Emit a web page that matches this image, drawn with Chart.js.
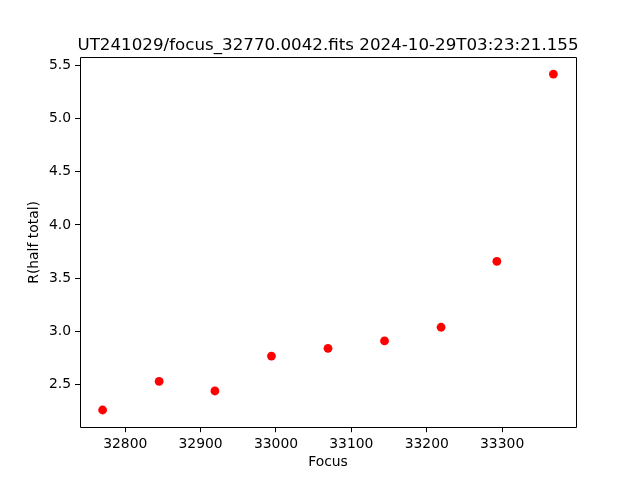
<!DOCTYPE html>
<html>
<head>
<meta charset="utf-8">
<script src="https://cdn.jsdelivr.net/npm/chart.js@4/dist/chart.umd.min.js"></script>
<style>
  html, body { margin: 0; padding: 0; background: #fff; }
  #c { display: block; }
</style>
</head>
<body>
<canvas id="c" width="640" height="480"></canvas>
<script>
const titleText = "UT241029/focus_32770.0042.fits 2024-10-29T03:23:21.155";
const xLabel = "Focus";
const yLabel = "R(half total)";
const focusValues = [32770, 32845, 32919, 32994, 33069, 33144, 33219, 33293, 33368];
const radiusValues = [2.258, 2.528, 2.437, 2.766, 2.839, 2.908, 3.037, 3.658, 5.421];
const xTicks = [32800, 32900, 33000, 33100, 33200, 33300];
const yTicks = [2.5, 3.0, 3.5, 4.0, 4.5, 5.0, 5.5];

const FONT = "'DejaVu Sans', sans-serif";
const AREA = { left: 80, right: 576, top: 57.6, bottom: 427.2 };

const points = focusValues.map((x, i) => ({ x: x, y: radiusValues[i] }));

const framePlugin = {
  id: 'frame',
  afterDraw(chart) {
    const ctx = chart.ctx;
    const a = chart.chartArea;
    ctx.save();
    ctx.strokeStyle = '#000';
    ctx.lineWidth = 1;
    const l = Math.round(a.left) + 0.5, r = Math.round(a.right) + 0.5;
    const t = Math.floor(a.top) + 0.5, b = Math.floor(a.bottom) + 0.5;
    ctx.beginPath();
    ctx.moveTo(l, t); ctx.lineTo(r, t); ctx.lineTo(r, b); ctx.lineTo(l, b); ctx.closePath();
    ctx.stroke();
    ctx.fillStyle = '#000';
    ctx.font = "16.7px " + FONT;
    ctx.textAlign = 'center';
    ctx.textBaseline = 'alphabetic';
    ctx.fillText(titleText, (a.left + a.right) / 2, 50);
    ctx.restore();
  }
};

new Chart(document.getElementById('c'), {
  type: 'scatter',
  data: {
    datasets: [{
      data: points,
      backgroundColor: '#ff0000',
      borderWidth: 0,
      pointRadius: 4.4,
      pointHoverRadius: 4.4
    }]
  },
  options: {
    responsive: false,
    animation: false,
    events: [],
    layout: { padding: { top: AREA.top, right: 640 - AREA.right, left: 0, bottom: 0 } },
    plugins: {
      legend: { display: false },
      tooltip: { enabled: false },
      title: { display: false }
    },
    scales: {
      x: {
        type: 'linear',
        min: 32740,
        max: 33398,
        afterBuildTicks: (axis) => { axis.ticks = xTicks.map(v => ({ value: v })); },
        afterFit: (axis) => { axis.height = 480 - AREA.bottom; },
        ticks: {
          color: '#000',
          font: { family: FONT, size: 13.9 },
          padding: 4,
          maxRotation: 0,
          autoSkip: false,
          callback: (v) => String(v)
        },
        grid: {
          display: true,
          drawOnChartArea: false,
          drawTicks: true,
          tickLength: 5,
          tickColor: '#000',
          tickWidth: 1
        },
        border: { display: false },
        title: {
          display: true,
          text: xLabel,
          color: '#000',
          font: { family: FONT, size: 13.9, lineHeight: 1.2 },
          padding: { top: 0, bottom: 9.5 }
        }
      },
      y: {
        type: 'linear',
        min: 2.096,
        max: 5.576,
        afterBuildTicks: (axis) => { axis.ticks = yTicks.map(v => ({ value: v })); },
        afterFit: (axis) => { axis.width = AREA.left; },
        ticks: {
          color: '#000',
          font: { family: FONT, size: 13.9 },
          padding: 4,
          autoSkip: false,
          callback: (v) => Number(v).toFixed(1)
        },
        grid: {
          display: true,
          drawOnChartArea: false,
          drawTicks: true,
          tickLength: 5,
          tickColor: '#000',
          tickWidth: 1
        },
        border: { display: false },
        title: {
          display: true,
          text: yLabel,
          color: '#000',
          font: { family: FONT, size: 13.9, lineHeight: 1.2 },
          padding: { top: 26.5, bottom: 0 }
        }
      }
    }
  },
  plugins: [framePlugin]
});
</script>
</body>
</html>
